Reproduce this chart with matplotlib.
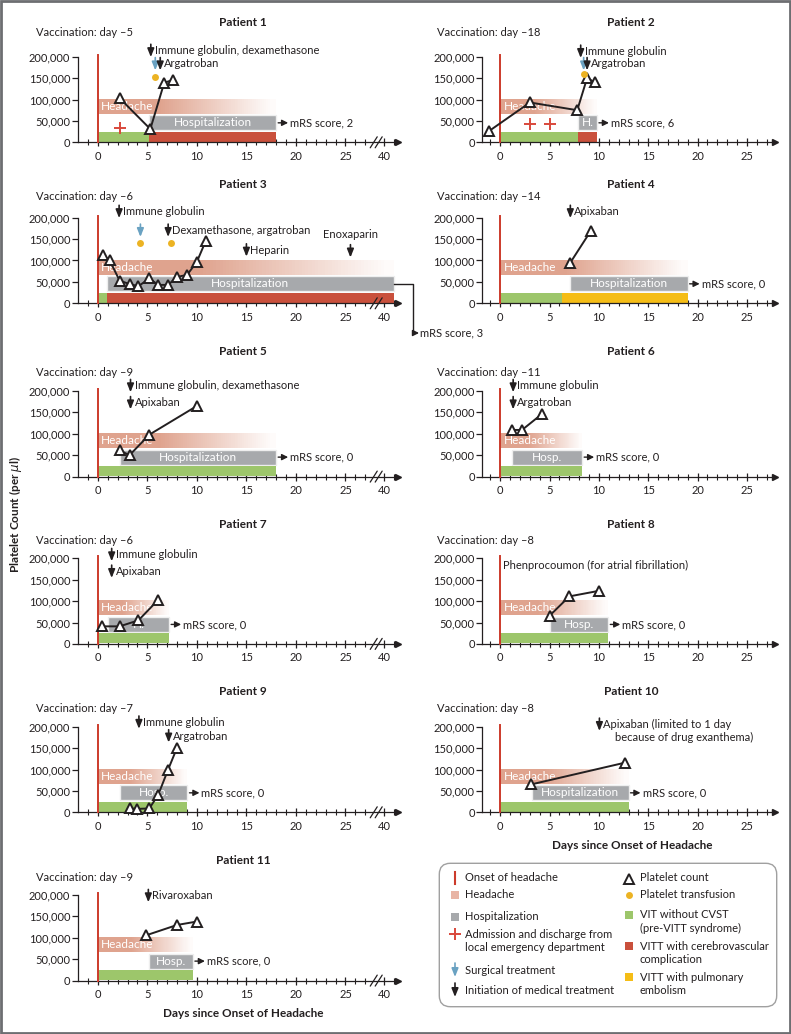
import numpy as np
import matplotlib.pyplot as plt
from matplotlib.patches import FancyBboxPatch, Rectangle
from matplotlib.transforms import offset_copy

plt.rcParams['font.family'] = ['Lato', 'DejaVu Sans']

INK = '#231f20'
SALMON = '#dfa38e'
GRAY = '#a7a9ac'
GREEN = '#9dc66b'
RED = '#c9503c'
YELLOW = '#f5bd16'
ONSET = '#cc3b2b'
BLUE = '#6aa2c2'
DOT = '#ecb323'
PLUS = '#d9483b'

# ---- data (days since onset of headache, platelets per microliter) ----
vaccination_day = [-5, -18, -6, -14, -9, -11, -6, -8, -7, -8, -9]
headache_end = [18, 9.8, 41, 19, 18, 8.3, 7.2, 10.95, 9.05, 13, 9.6]
hosp_start = [5.2, 7.9, 0.9, 7.1, 2.2, 1.2, 1.05, 5.0, 2.2, 3.2, 5.2]
hosp_end = [18, 9.8, 41, 19, 18, 8.3, 7.2, 10.95, 9.05, 13, 9.6]
hosp_label = ['Hospitalization', 'H.', 'Hospitalization', 'Hospitalization',
              'Hospitalization', 'Hosp.', 'H.', 'Hosp.', 'Hosp.',
              'Hospitalization', 'Hosp.']
green_end = [5.2, 7.9, 0.9, 6.3, 18, 8.3, 7.2, 10.95, 9.05, 13, 9.6]
vitt_end = [18, 9.8, 41, 19, None, None, None, None, None, None, None]
vitt_kind = ['cvst', 'cvst', 'cvst', 'pe', None, None, None, None, None, None, None]
mrs_score = [2, 6, 3, 0, 0, 0, 0, 0, 0, 0, 0]

platelet_days = [
    [2.2, 5.3, 6.7, 7.6],
    [-1.1, 3.0, 7.8, 8.8, 9.6],
    [0.5, 1.2, 2.2, 3.2, 4.1, 5.2, 6.1, 7.1, 8.0, 9.0, 10.0, 10.9],
    [7.1, 9.2],
    [2.2, 3.2, 5.2, 10.0],
    [1.15, 2.2, 4.2],
    [0.4, 2.2, 4.1, 6.1],
    [5.0, 7.0, 10.0],
    [3.2, 4.0, 5.2, 6.1, 7.1, 8.0],
    [3.1, 12.65],
    [4.9, 8.0, 10.0],
]
platelet_counts = [
    [103000, 31000, 139000, 146000],
    [27000, 93000, 75000, 150000, 140000],
    [113000, 100000, 53000, 45000, 40000, 58000, 43000, 43000, 62000, 66000, 97000, 146000],
    [95000, 170000],
    [61000, 50000, 98000, 165000],
    [109000, 109000, 146000],
    [41000, 41000, 55000, 103000],
    [66000, 111000, 124000],
    [9000, 8000, 9000, 41000, 100000, 151000],
    [65000, 116000],
    [106000, 130000, 138000],
]

# medical treatment: (day, level, label, label position)
medication = [
    [(5.35, 214000, 'Immune globulin, dexamethasone', 'right'), (6.3, 183000, 'Argatroban', 'right')],
    [(8.15, 212000, 'Immune globulin', 'right'), (8.8, 183000, 'Argatroban', 'right')],
    [(2.15, 214000, 'Immune globulin', 'right'), (7.1, 170000, 'Dexamethasone, argatroban', 'right'),
     (15.0, 124000, 'Heparin', 'right'), (25.5, 122000, 'Enoxaparin', 'above')],
    [(7.1, 214000, 'Apixaban', 'right')],
    [(3.3, 212000, 'Immune globulin, dexamethasone', 'right'), (3.3, 172000, 'Apixaban', 'right')],
    [(1.3, 212000, 'Immune globulin', 'right'), (1.3, 172000, 'Argatroban', 'right')],
    [(1.4, 208000, 'Immune globulin', 'right'), (1.4, 169000, 'Apixaban', 'right')],
    [],
    [(4.15, 210000, 'Immune globulin', 'right'), (7.15, 178000, 'Argatroban', 'right')],
    [(10.05, 205000, 'Apixaban (limited to 1 day', 'right')],
    [(5.1, 198000, 'Rivaroxaban', 'right')],
]
surgery = [[(5.8, 183000)], [(8.45, 183000)], [(4.3, 170000)], [], [], [], [], [], [], [], []]
transfusion = [[(5.8, 152000)], [(8.45, 160000)], [(4.3, 142000), (7.4, 142000)],
               [], [], [], [], [], [], [], []]
ed_visits = [[(2.2, 34000)], [(3.0, 43000), (5.0, 43000)], [], [], [], [], [], [], [], [], []]
notes = [[], [], [], [], [], [], [],
         [(0.3, 184000, 'Phenprocoumon (for atrial fibrillation)')], [],
         [(11.6, 175000, 'because of drug exanthema)')], []]

yticks = [0, 50000, 100000, 150000, 200000]

# ---- layout in pixels ----
W, H = 791, 1034
col_left = [78, 482.3]
col_width = [320, 292.7]
col_xlim = [(-2, 41.4), (-1.83, 27.86)]
row_top = [56.7, 217.7, 391, 558.3, 726.7, 895]
ax_h = 85.6
title_y = [22, 184.5, 351.7, 524.5, 691.7, 860]
vacc_y = [33, 196.7, 372.7, 541, 708.3, 877.3]
title_x = [243, 631]
vacc_x = [36, 436.7]


def fwd(x):
    x = np.asarray(x, float)
    return np.where(x <= 28.5, x, np.where(x < 40, 28.5 + (x - 28.5) * 0.4 / 11.5, x - 11.1))


def inv(y):
    y = np.asarray(y, float)
    return np.where(y <= 28.5, y, np.where(y < 28.9, 28.5 + (y - 28.5) * 11.5 / 0.4, y + 11.1))


def ident(x):
    return np.asarray(x, float)


def mix(c, w):
    import matplotlib.colors as mc
    r = np.array(mc.to_rgb(c))
    return tuple(1 - w * (1 - r))


fig = plt.figure(figsize=(W / 100, H / 100), dpi=100)
ov = fig.add_axes([0, 0, 1, 1])
ov.set_xlim(0, W)
ov.set_ylim(H, 0)
ov.axis('off')

fig.patches.append(Rectangle((0.001, 0.001), 0.998, 0.998, transform=fig.transFigure,
                             fill=False, edgecolor='#6d6e71', lw=2))

arrow_med = dict(arrowstyle='-|>,head_length=0.5,head_width=0.2',
                 mutation_scale=10, lw=1.2, shrinkA=0, shrinkB=0)
arrow_mrs = dict(arrowstyle='-|>,head_length=0.4,head_width=0.2',
                 mutation_scale=9, lw=1, color=INK, shrinkA=0, shrinkB=0)

for i in range(11):
    col, row = i % 2, i // 2
    f, fi = (fwd, inv) if col == 0 else (ident, ident)
    ax = fig.add_axes([col_left[col] / W, 1 - (row_top[row] + ax_h) / H,
                       col_width[col] / W, ax_h / H])
    if col == 0:
        ax.set_xscale('function', functions=(fwd, inv))
    ax.set_xlim(*col_xlim[col])
    ax.set_ylim(0, 200000)
    ax.patch.set_visible(False)
    for s in ['top', 'right']:
        ax.spines[s].set_visible(False)
    ax.spines['left'].set_bounds(0, 200000)
    for s in ['left', 'bottom']:
        ax.spines[s].set_color(INK)
        ax.spines[s].set_linewidth(0.9)
    ax.set_yticks(yticks)
    ax.set_yticklabels([f'{v:,}' for v in yticks])
    if col == 0:
        ax.set_xticks([0, 5, 10, 15, 20, 25, 40])
        ax.set_xticks([d for d in range(-1, 28) if d % 5] + [41], minor=True)
    else:
        ax.set_xticks([0, 5, 10, 15, 20, 25])
        ax.set_xticks([d for d in range(-1, 28) if d % 5], minor=True)
    ax.xaxis.set_minor_formatter(plt.NullFormatter())
    ax.tick_params(axis='x', which='major', direction='inout', length=6, width=0.9,
                   labelsize=8, colors=INK, pad=3)
    ax.tick_params(axis='x', which='minor', direction='inout', length=4, width=0.8, colors=INK)
    ax.tick_params(axis='y', direction='out', length=4, width=0.9, labelsize=8,
                   colors=INK, pad=1.5)
    ax.plot(1, 0, marker='>', ms=5, color=INK, transform=ax.get_yaxis_transform(),
            clip_on=False)
    if col == 0:
        for bx in [27.85, 28.35]:
            ax.annotate('', xy=(bx, 0), xytext=(bx, 0),
                        xycoords=offset_copy(ax.transData, fig=fig, x=3.5, y=5.5, units='dots'),
                        textcoords=offset_copy(ax.transData, fig=fig, x=-3.5, y=-5.5, units='dots'),
                        arrowprops=dict(arrowstyle='-', lw=0.9, color=INK, shrinkA=0, shrinkB=0))

    # headache band with fade
    s0, s1 = float(f(0.0)), float(f(headache_end[i]))
    edges = np.linspace(s0, s1, 91)
    for a, b in zip(edges[:-1], edges[1:]):
        t = ((a + b) / 2 - s0) / (s1 - s0)
        w = 1.0 if t < 0.35 else max(0.04, 1 - (t - 0.35) / 0.65)
        x0, x1 = float(fi(a)), float(fi(min(b + 0.06, s1)))
        ax.barh(84000, x1 - x0, left=x0, height=35000, color=mix(SALMON, w),
                linewidth=0, zorder=1)
    ax.text(0.35, 84000, 'Headache', color='white', fontsize=8.5, va='center',
            ha='left', zorder=2)

    # hospitalization
    hs, he = hosp_start[i], hosp_end[i]
    ax.barh(45500, he - hs, left=hs, height=35000, color=GRAY, edgecolor='#eeeeee',
            linewidth=1, zorder=2)
    hc = float(fi((f(hs) + f(he)) / 2))
    ax.text(hc, 45500, hosp_label[i], color='white', fontsize=8.5, va='center',
            ha='center', zorder=3)

    # disease phase
    ax.barh(13000, green_end[i], left=0, height=24000, color=GREEN, linewidth=0, zorder=2)
    if vitt_end[i] is not None:
        ax.barh(13000, vitt_end[i] - green_end[i], left=green_end[i], height=24000,
                color=RED if vitt_kind[i] == 'cvst' else YELLOW, linewidth=0, zorder=2)

    # onset line
    ax.plot([0, 0], [0, 205000], color=ONSET, lw=1.4, clip_on=False, zorder=3)

    # mRS
    if i != 2:
        ax.annotate('', xy=(he, 45500), xytext=(he, 45500),
                    xycoords=offset_copy(ax.transData, fig=fig, x=12, units='dots'),
                    textcoords=offset_copy(ax.transData, fig=fig, x=2, units='dots'),
                    arrowprops=arrow_mrs)
        ax.annotate(f'mRS score, {mrs_score[i]}', (he, 45500), xytext=(14, 0),
                    textcoords='offset pixels', fontsize=8, color=INK, va='center')
    else:
        p0 = ax.transData.transform((he, 45500))
        ylow = H - 333
        pts = [p0, (p0[0] + 19, p0[1]), (p0[0] + 19, ylow)]
        dpts = ax.transData.inverted().transform(pts)
        ax.plot(dpts[:, 0], dpts[:, 1], color=INK, lw=1, clip_on=False)
        end = ax.transData.inverted().transform([(p0[0] + 25, ylow)])[0]
        ax.annotate('', xy=end, xytext=dpts[-1], arrowprops=arrow_mrs,
                    annotation_clip=False)
        ax.annotate(f'mRS score, {mrs_score[i]}', end, xytext=(1, 0),
                    textcoords='offset pixels', fontsize=8, color=INK, va='center',
                    annotation_clip=False)

    # platelet counts
    ax.plot(platelet_days[i], platelet_counts[i], color=INK, lw=1.4, marker='^', ms=7.5,
            mfc='white', mec=INK, mew=1.4, zorder=5, clip_on=False)

    for d, y in transfusion[i]:
        ax.plot(d, y, 'o', ms=5, color=DOT, mec='none', zorder=5, clip_on=False)
    for d, y in ed_visits[i]:
        ax.plot(d, y, '+', ms=8, mew=1.4, color=PLUS, zorder=5)
    for d, y in surgery[i]:
        ax.annotate('', xy=(d, y - 15000), xytext=(d, y + 15000),
                    arrowprops=dict(arrow_med, color=BLUE), annotation_clip=False)
    for d, y, label, pos in medication[i]:
        ax.annotate('', xy=(d, y - 15000), xytext=(d, y + 15000),
                    arrowprops=dict(arrow_med, color=INK), annotation_clip=False)
        if pos == 'right':
            ax.annotate(label, (d, y), xytext=(4, 0), textcoords='offset pixels',
                        fontsize=8, color=INK, va='center', annotation_clip=False)
        else:
            ax.text(d, y + 38000, label, fontsize=8, color=INK, va='center', ha='center')
    for d, y, label in notes[i]:
        ax.text(d, y, label, fontsize=8, color=INK, va='center', ha='left')

    ov.text(title_x[col], title_y[row], f'Patient {i + 1}', fontsize=8.5,
            fontweight='bold', ha='center', va='center', color=INK)
    ov.text(vacc_x[col], vacc_y[row], f'Vaccination: day \u2013{abs(vaccination_day[i])}',
            fontsize=8, ha='left', va='center', color=INK)

# axis titles
ov.text(632, 845.7, 'Days since Onset of Headache', fontsize=8.5, fontweight='bold',
        ha='center', va='center', color=INK)
ov.text(243, 1013.3, 'Days since Onset of Headache', fontsize=8.5, fontweight='bold',
        ha='center', va='center', color=INK)
ov.text(16, 515, 'Platelet Count (per $\\mu$l)', fontsize=8.5, fontweight='bold',
        rotation=90, ha='center', va='center', color=INK)

# legend
ov.add_patch(FancyBboxPatch((439.3, 863.3), 337.4, 143.4,
                            boxstyle='round,pad=0,rounding_size=11',
                            fc='white', ec='#a0a0a0', lw=1))
lx, ltx = 455, 465
rx, rtx = 629, 640
ov.plot([lx, lx], [872, 884], color=ONSET, lw=1.5)
ov.add_patch(Rectangle((lx - 4, 891), 8, 8, color='#e8b4a4', lw=0))
ov.add_patch(Rectangle((lx - 4, 912.7), 8, 8, color=GRAY, lw=0))
ov.plot(lx, 934.3, '+', ms=8, mew=1.4, color=PLUS)
ov.annotate('', xy=(lx, 977), xytext=(lx, 963), arrowprops=dict(arrow_med, color=BLUE))
ov.annotate('', xy=(lx, 997), xytext=(lx, 983), arrowprops=dict(arrow_med, color=INK))
left_entries = [(877.7, 'Onset of headache'), (895, 'Headache'), (916.7, 'Hospitalization'),
                (934.3, 'Admission and discharge from'), (947.7, 'local emergency department'),
                (970, 'Surgical treatment'), (990, 'Initiation of medical treatment')]
for y, t in left_entries:
    ov.text(ltx, y, t, fontsize=8, va='center', ha='left', color=INK)

ov.plot(rx, 878.5, '^', ms=7, mfc='white', mec=INK, mew=1.4)
ov.plot(rx, 895, 'o', ms=5, color=DOT, mec='none')
for y, c in [(915, GREEN), (946, RED), (977.3, YELLOW)]:
    ov.add_patch(Rectangle((rx - 4, y - 4), 8, 8, color=c, lw=0))
right_entries = [(877.7, 'Platelet count'), (895, 'Platelet transfusion'),
                 (915, 'VIT without CVST'), (928.3, '(pre-VITT syndrome)'),
                 (946, 'VITT with cerebrovascular'), (959.3, 'complication'),
                 (977.3, 'VITT with pulmonary'), (990, 'embolism')]
for y, t in right_entries:
    ov.text(rtx, y, t, fontsize=8, va='center', ha='left', color=INK)

fig.savefig('out.png', dpi=100)
